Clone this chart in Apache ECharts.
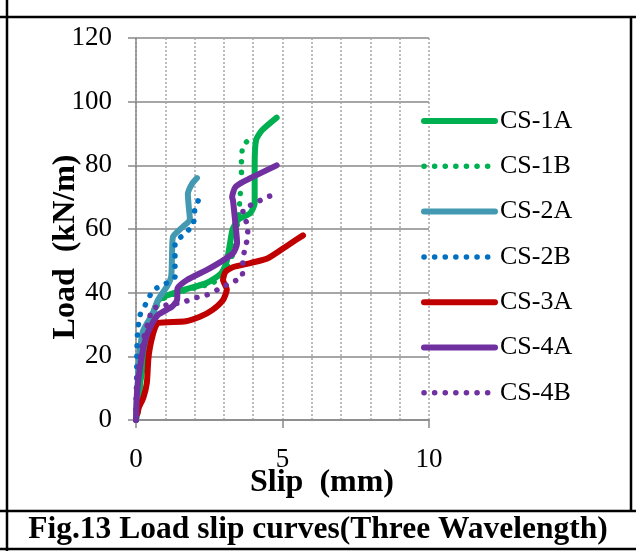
<!DOCTYPE html>
<html>
<head>
<meta charset="utf-8">
<script src="https://cdn.jsdelivr.net/npm/echarts@6/dist/echarts.min.js"></script>
<style>
  html, body { margin: 0; padding: 0; background: #fff; }
  #chart { width: 636px; height: 551px; }
</style>
</head>
<body>
<div id="chart"></div>
<script>
// slip (mm), load (kN/m)
var names = ['CS-1A', 'CS-1B', 'CS-2A', 'CS-2B', 'CS-3A', 'CS-4A', 'CS-4B'];
var xTicks = [0, 5, 10];
var yTicks = [0, 20, 40, 60, 80, 100, 120];

var cs1A = [[0,0],[0.1,5],[0.15,12],[0.3,20],[0.45,28],[0.6,34],[0.8,38],[1.5,40.5],[2.4,43],[2.9,46],[3.1,50],[3.2,55],[3.3,60],[3.5,63],[3.9,65],[4.05,68],[4.05,80],[4.1,88],[4.3,91],[4.8,95]];
var cs1B = [[0,0],[0.1,8],[0.2,15],[0.35,25],[0.55,33],[0.9,38],[1.8,41],[2.6,43],[3.0,46],[3.3,52],[3.4,58],[3.5,64],[3.55,70],[3.6,76],[3.6,81],[3.65,86],[3.9,88.5]];
var cs2A = [[0,0],[0.05,10],[0.1,19],[0.24,28],[0.58,33.6],[0.75,37.7],[1.06,42],[1.2,45],[1.23,52],[1.26,57.5],[1.6,60.7],[1.84,63],[1.8,67],[1.77,71],[1.9,74],[2.08,76]];
var cs2B = [[0,0],[0.02,10],[0.03,20],[0.05,27],[0.14,33],[0.41,37.7],[0.58,40.8],[0.92,42.4],[1.33,45],[1.33,50],[1.33,55.6],[1.6,58],[1.9,60.6],[1.95,61],[2.0,65],[2.0,66.6],[2.18,69.7]];
var cs3A = [[0.05,2],[0.1,4],[0.25,7],[0.37,11.6],[0.42,19],[0.48,23],[0.58,27],[0.65,29],[0.75,30.5],[1.7,31],[2.2,32.5],[2.6,34.5],[2.97,37.7],[3.1,41],[2.97,44],[3.05,46.5],[3.3,48],[3.9,49.3],[4.5,50.8],[5.2,55],[5.7,58]];
var cs4A = [[0,0],[0.03,8],[0.14,16.7],[0.31,25],[0.48,29],[0.75,33],[1.23,35.6],[1.4,37.7],[1.42,41.4],[1.74,44],[2.53,47.7],[3.31,52.4],[3.45,55.6],[3.38,62.8],[3.31,69],[3.28,70],[3.38,73],[3.65,74.8],[4.8,80]];
var cs4B = [[0,0],[0.03,12.6],[0.14,19],[0.24,25],[0.41,30.5],[0.58,35],[1.0,36],[1.6,37],[2.0,38.3],[2.42,39.3],[2.8,41],[3.2,43],[3.62,45],[3.65,50.3],[3.72,54],[3.79,56.5],[3.82,60.7],[3.65,65],[3.65,66],[4.03,68],[4.4,69.7],[4.74,71]];

var seriesData = [cs1A, cs1B, cs2A, cs2B, cs3A, cs4A, cs4B];
var colors = ['#00B050', '#00B050', '#4399B1', '#0070C0', '#C00000', '#7030A0', '#7030A0'];
var dotted = [false, true, false, true, false, false, true];

var serif = 'Liberation Serif';
var chart = echarts.init(document.getElementById('chart'));

function lineStyleFor(i) {
    return dotted[i]
        ? { color: colors[i], width: 5.5, type: [0.1, 10.5], cap: 'round' }
        : { color: colors[i], width: 6, type: 'solid', cap: 'round', join: 'round' };
}

var series = [];
var legendData = [];
for (var i = 0; i < names.length; i++) {
    series.push({
        name: names[i],
        type: 'line',
        data: seriesData[i],
        symbol: 'none',
        smooth: 0.2,
        color: colors[i],
        lineStyle: lineStyleFor(i)
    });
    legendData.push({
        name: names[i],
        lineStyle: lineStyleFor(i),
        itemStyle: { opacity: 0 }
    });
}

var frame = { stroke: '#000', lineWidth: 2.5 };

var option = {
    animation: false,
    backgroundColor: '#fff',
    grid: { left: 136, right: 207, top: 38, bottom: 131 },
    xAxis: {
        type: 'value',
        min: 0, max: 10, interval: 5,
        axisLine: { show: true, onZero: false, lineStyle: { color: '#888', width: 1.5 } },
        axisTick: { show: true, length: 8, lineStyle: { color: '#888', width: 1.5 } },
        axisLabel: {
            margin: 26, color: '#000', fontFamily: serif, fontSize: 27,
            formatter: function (v) { return xTicks.indexOf(v) >= 0 ? v : ''; }
        },
        splitLine: { show: true, lineStyle: { color: '#A6A6A6', width: 1.5, type: [2, 2] } },
        minorTick: { show: false, splitNumber: 5 },
        minorSplitLine: { show: true, lineStyle: { color: '#A6A6A6', width: 1.5, type: [2, 2] } }
    },
    yAxis: {
        type: 'value',
        min: 0, max: 120, interval: 20,
        axisLine: { show: true, lineStyle: { color: '#888', width: 1.5 } },
        axisTick: { show: true, length: 8, lineStyle: { color: '#888', width: 1.5 } },
        axisLabel: {
            margin: 24, color: '#000', fontFamily: serif, fontSize: 27,
            formatter: function (v) { return yTicks.indexOf(v) >= 0 ? v : ''; }
        },
        splitLine: { show: true, lineStyle: { color: '#888', width: 1.5 } }
    },
    legend: {
        orient: 'vertical',
        left: 421, top: 108,
        padding: 0,
        itemWidth: 71, itemHeight: 26, itemGap: 19.3,
        textStyle: { color: '#000', fontFamily: serif, fontSize: 26, lineHeight: 26 },
        data: legendData
    },
    graphic: [
        { type: 'text', x: 322, y: 483, style: { text: 'Slip  (mm)', fontFamily: serif, fontWeight: 'bold', fontSize: 32, fill: '#000', align: 'center', verticalAlign: 'middle' } },
        { type: 'text', x: 66, y: 247, rotation: Math.PI / 2, style: { text: 'Load  (kN/m)', fontFamily: serif, fontWeight: 'bold', fontSize: 32, fill: '#000', align: 'center', verticalAlign: 'middle' } },
        { type: 'text', x: 318, y: 530, style: { text: 'Fig.13 Load slip curves(Three Wavelength)', fontFamily: serif, fontWeight: 'bold', fontSize: 31.5, fill: '#000', align: 'center', verticalAlign: 'middle' } },
        { type: 'line', shape: { x1: 0, y1: 17, x2: 636, y2: 17 }, style: frame },
        { type: 'line', shape: { x1: 7, y1: 0, x2: 7, y2: 551 }, style: frame },
        { type: 'line', shape: { x1: 631, y1: 16, x2: 631, y2: 511 }, style: frame },
        { type: 'line', shape: { x1: 0, y1: 511, x2: 636, y2: 511 }, style: frame },
        { type: 'line', shape: { x1: 0, y1: 549, x2: 636, y2: 549 }, style: frame }
    ],
    series: series
};

chart.setOption(option);
</script>
</body>
</html>
